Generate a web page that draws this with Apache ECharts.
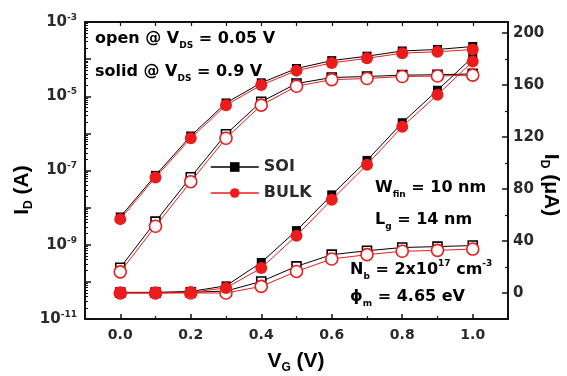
<!DOCTYPE html>
<html><head><meta charset="utf-8">
<script src="https://cdn.jsdelivr.net/npm/echarts@6/dist/echarts.min.js"></script>
<style>html,body{margin:0;padding:0;background:#fff}#c{width:567px;height:376px}</style>
</head><body><div id="c"></div>
<script>
// ---- data ----
const vg = [0.0, 0.1, 0.2, 0.3, 0.4, 0.5, 0.6, 0.7, 0.8, 0.9, 1.0];
// log-scale (left axis, A)
const soiSolidLog  = [5.6e-9, 7.4e-8, 8.5e-7, 6.6e-6, 2.3e-5, 5.6e-5, 9.1e-5, 1.2e-4, 1.66e-4, 1.82e-4, 2.19e-4];
const soiOpenLog   = [2.4e-10, 4.2e-9, 6.6e-8, 9.5e-7, 7.1e-6, 2.2e-5, 3.2e-5, 3.4e-5, 3.7e-5, 3.8e-5, 4.0e-5];
const bulkSolidLog = [4.9e-9, 6.5e-8, 7.4e-7, 5.75e-6, 2.0e-5, 4.9e-5, 7.9e-5, 1.05e-4, 1.45e-4, 1.58e-4, 1.82e-4];
const bulkOpenLog  = [1.86e-10, 3.16e-9, 5.0e-8, 7.4e-7, 5.75e-6, 1.86e-5, 2.8e-5, 3.0e-5, 3.4e-5, 3.5e-5, 3.7e-5];
// linear-scale (right axis, uA)
const soiSolidLin  = [0.5, 0.5, 1.2, 5.5, 23.5, 48, 75.5, 102, 131, 156, 181.5];
const soiOpenLin   = [0.3, 0.3, 0.5, 1.5, 8.9, 20.5, 29.5, 32.5, 35, 35.7, 36.5];
const bulkSolidLin = [0, 0, 0.5, 3.9, 19.2, 44.1, 71.8, 98.7, 128, 152.5, 178.2];
const bulkOpenLin  = [0, 0, 0, 0, 5.1, 16.6, 26.2, 29.5, 32.1, 32.8, 33.8];
// ticks
const xTicks = [0, 0.2, 0.4, 0.6, 0.8, 1.0];
const xMinorTicks = [0.1, 0.3, 0.5, 0.7, 0.9];
const logMajor = [1e-11, 1e-10, 1e-9, 1e-8, 1e-7, 1e-6, 1e-5, 1e-4, 1e-3];
const logLabels = [1e-11, 1e-9, 1e-7, 1e-5, 1e-3];
const rightTicks = [0, 40, 80, 120, 160, 200];
const rightMinor = [20, 60, 100, 140, 180];

const logMinor = [];
for (let e = -11; e < -3; e++) for (let k = 2; k <= 9; k++) logMinor.push(+(k + 'e' + e));

const FONT = 'DejaVu Sans';
const TXT = '#2a2a2a';
const RED = '#ec1c1c';
const BLK = '#000';

const pairs = (ys) => vg.map((x, i) => [x, ys[i]]);

function mk(name, ys, yIdx, sym, filled, color, z) {
  return {
    name, type: 'line', yAxisIndex: yIdx, z, data: pairs(ys),
    symbol: sym, symbolSize: sym === 'circle' ? 12 : 9,
    showSymbol: true,
    lineStyle: { color, width: 1 },
    itemStyle: filled ? { color, borderColor: color, borderWidth: 0 }
                      : { color: '#fff', borderColor: color, borderWidth: 1.6 },
    emphasis: { disabled: true }
  };
}

const main = { fontFamily: FONT, fontWeight: 'bold', fontSize: 16, color: TXT, lineHeight: 22 };
const sub = { fontFamily: FONT, fontWeight: 'bold', fontSize: 9, color: TXT, lineHeight: 7, verticalAlign: 'bottom' };
const sup = { fontFamily: FONT, fontWeight: 'bold', fontSize: 9, color: TXT, lineHeight: 7, verticalAlign: 'top' };
function ann(x, y, text) {
  return { type: 'text', x, y, z: 100,
    style: { text, rich: { m: main, s: sub, p: sup }, align: 'left', verticalAlign: 'middle' } };
}
const tMain = { fontFamily: 'Liberation Sans', fontWeight: 'bold', fontSize: 21, color: TXT, lineHeight: 26 };
const tSub = { fontFamily: 'Liberation Sans', fontWeight: 'bold', fontSize: 12, color: TXT, lineHeight: 10, verticalAlign: 'bottom' };

const AL = { show: true, onZero: false, lineStyle: { color: '#111', width: 2 } };
const NOAL = { show: false, onZero: false };

const chart = echarts.init(document.getElementById('c'), null, { renderer: 'canvas' });
chart.setOption({
  animation: false,
  backgroundColor: '#fff',
  grid: { left: 85, right: 59, top: 22, bottom: 57, containLabel: false },
  legend: {
    orient: 'vertical', left: 205, top: 153, itemWidth: 48, itemHeight: 12, itemGap: 8,
    data: [
      { name: 'SOI', itemStyle: { color: BLK, borderWidth: 0 }, lineStyle: { color: BLK, width: 1.5 } },
      { name: 'BULK', itemStyle: { color: RED, borderWidth: 0 }, lineStyle: { color: RED, width: 1.5 } }
    ],
    textStyle: { fontFamily: FONT, fontWeight: 'bold', fontSize: 16, color: TXT, lineHeight: 18 }
  },
  xAxis: [
    { type: 'value', position: 'bottom', min: -0.1, max: 1.1,
      axisLine: AL,
      axisTick: { show: true, inside: true, length: 5, customValues: xTicks, lineStyle: { color: '#111', width: 1.5 } },
      axisLabel: { customValues: xTicks, formatter: (v) => v.toFixed(1), fontFamily: FONT, fontWeight: 'bold', fontSize: 14, color: TXT, margin: 9 },
      splitLine: { show: false } },
    { type: 'value', position: 'bottom', min: -0.1, max: 1.1,
      axisLine: NOAL,
      axisTick: { show: true, inside: true, length: 3, customValues: xMinorTicks, lineStyle: { color: '#111', width: 1.2 } },
      axisLabel: { show: false }, splitLine: { show: false } },
    { type: 'value', position: 'top', min: -0.1, max: 1.1,
      axisLine: AL,
      axisTick: { show: true, inside: true, length: 4, customValues: xTicks.concat(xMinorTicks), lineStyle: { color: '#111', width: 1.2 } },
      axisLabel: { show: false }, splitLine: { show: false } }
  ],
  yAxis: [
    { type: 'log', logBase: 10, position: 'left', min: 1e-11, max: 1e-3,
      axisLine: AL,
      axisTick: { show: true, inside: true, length: 6, customValues: logMajor, lineStyle: { color: '#111', width: 1.5 } },
      axisLabel: { customValues: logLabels, margin: 8,
        formatter: (v) => '{b|10}{s|' + Math.round(Math.log10(v)) + '}',
        rich: { b: { fontFamily: FONT, fontWeight: 'bold', fontSize: 15, color: TXT, lineHeight: 18 },
                s: { fontFamily: FONT, fontWeight: 'bold', fontSize: 9, color: TXT, lineHeight: 9, verticalAlign: 'top' } } },
      splitLine: { show: false }, minorSplitLine: { show: false } },
    { type: 'log', logBase: 10, position: 'left', min: 1e-11, max: 1e-3,
      axisLine: NOAL,
      axisTick: { show: true, inside: true, length: 3, customValues: logMinor, lineStyle: { color: '#111', width: 1 } },
      axisLabel: { show: false }, splitLine: { show: false } },
    { type: 'value', position: 'right', min: -20, max: 208.5,
      axisLine: AL,
      axisTick: { show: true, inside: true, length: 6, customValues: rightTicks, lineStyle: { color: '#111', width: 1.5 } },
      axisLabel: { customValues: rightTicks, margin: 5, fontFamily: FONT, fontWeight: 'bold', fontSize: 15, color: TXT },
      splitLine: { show: false } },
    { type: 'value', position: 'right', min: -20, max: 208.5,
      axisLine: NOAL,
      axisTick: { show: true, inside: true, length: 3, customValues: rightMinor, lineStyle: { color: '#111', width: 1.2 } },
      axisLabel: { show: false }, splitLine: { show: false } }
  ],
  series: [
    mk('SOI', soiSolidLog, 0, 'rect', true, BLK, 3),
    mk('SOI', soiOpenLog, 0, 'rect', false, BLK, 2),
    mk('SOI', soiSolidLin, 2, 'rect', true, BLK, 3),
    mk('SOI', soiOpenLin, 2, 'rect', false, BLK, 2),
    mk('BULK', bulkSolidLog, 0, 'circle', true, RED, 5),
    mk('BULK', bulkOpenLog, 0, 'circle', false, RED, 4),
    mk('BULK', bulkSolidLin, 2, 'circle', true, RED, 5),
    mk('BULK', bulkOpenLin, 2, 'circle', false, RED, 4)
  ],
  graphic: [
    ann(95, 39, '{m|open @ V}{s|DS}{m| = 0.05 V}'),
    ann(95, 72, '{m|solid @ V}{s|DS}{m| = 0.9 V}'),
    ann(375, 188, '{m|W}{s|fin}{m| = 10 nm}'),
    ann(375, 220, '{m|L}{s|g}{m| = 14 nm}'),
    ann(350, 270, '{m|N}{s|b}{m| = 2x10}{p|17}{m| cm}{p|-3}'),
    ann(350, 297, '{m|ϕ}{s|m}{m| = 4.65 eV}'),
    { type: 'text', x: 22, y: 190, rotation: Math.PI / 2, z: 100,
      style: { text: '{m|I}{s|D}{m| (A)}', rich: { m: tMain, s: tSub }, align: 'center', verticalAlign: 'middle' } },
    { type: 'text', x: 296, y: 361, z: 100,
      style: { text: '{m|V}{s|G}{m| (V)}', rich: { m: tMain, s: tSub }, align: 'center', verticalAlign: 'middle' } },
    { type: 'text', x: 551, y: 185, rotation: -Math.PI / 2, z: 100,
      style: { text: '{m|I}{s|D}{m| (μA)}', rich: { m: tMain, s: tSub }, align: 'center', verticalAlign: 'middle' } }
  ]
});
</script>
</body></html>
